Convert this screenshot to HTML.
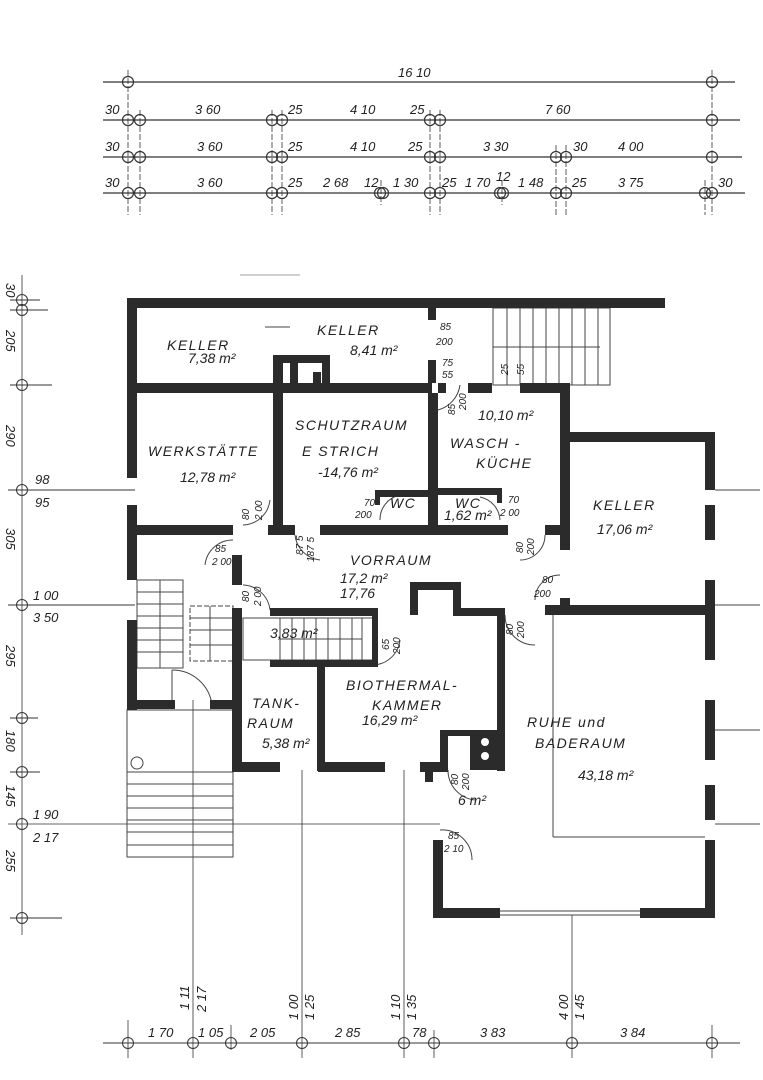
<!DOCTYPE html>
<html><head><meta charset="utf-8"><style>
html,body{margin:0;padding:0;background:#fff;}
svg{display:block;}
text{font-family:"Liberation Sans",sans-serif;font-style:italic;fill:#222;}
.l{font-size:14px;letter-spacing:1.5px;}
.h{font-size:14px;fill:#777;}
.d{font-size:13px;}
.s{font-size:10px;}
</style></head><body>
<svg width="763" height="1080" viewBox="0 0 763 1080" xmlns="http://www.w3.org/2000/svg">
<rect width="763" height="1080" fill="#fff"/>
<!-- top dimension lines -->
<g stroke="#333" stroke-width="1.2" fill="none">
<line x1="103" y1="82" x2="735" y2="82"/>
<line x1="103" y1="120" x2="740" y2="120"/>
<line x1="103" y1="157" x2="742" y2="157"/>
<line x1="103" y1="193" x2="745" y2="193"/>
<g stroke-width="0.8" stroke-dasharray="6,2">
<line x1="128" y1="70" x2="128" y2="215"/><line x1="140" y1="110" x2="140" y2="215"/>
<line x1="272" y1="110" x2="272" y2="215"/><line x1="282" y1="110" x2="282" y2="215"/>
<line x1="430" y1="110" x2="430" y2="215"/><line x1="440" y1="110" x2="440" y2="215"/>
<line x1="556" y1="145" x2="556" y2="215"/><line x1="566" y1="145" x2="566" y2="215"/>
<line x1="712" y1="70" x2="712" y2="215"/><line x1="705" y1="180" x2="705" y2="215"/>
<line x1="381" y1="180" x2="381" y2="205"/><line x1="502" y1="180" x2="502" y2="205"/>
</g>
<circle cx="128" cy="82" r="5.5"/><circle cx="712" cy="82" r="5.5"/>
<circle cx="128" cy="120" r="5.5"/><circle cx="140" cy="120" r="5.5"/><circle cx="272" cy="120" r="5.5"/><circle cx="282" cy="120" r="5.5"/><circle cx="430" cy="120" r="5.5"/><circle cx="440" cy="120" r="5.5"/><circle cx="712" cy="120" r="5.5"/>
<circle cx="128" cy="157" r="5.5"/><circle cx="140" cy="157" r="5.5"/><circle cx="272" cy="157" r="5.5"/><circle cx="282" cy="157" r="5.5"/><circle cx="430" cy="157" r="5.5"/><circle cx="440" cy="157" r="5.5"/><circle cx="556" cy="157" r="5.5"/><circle cx="566" cy="157" r="5.5"/><circle cx="712" cy="157" r="5.5"/>
<circle cx="128" cy="193" r="5.5"/><circle cx="140" cy="193" r="5.5"/><circle cx="272" cy="193" r="5.5"/><circle cx="282" cy="193" r="5.5"/><circle cx="380" cy="193" r="5.5"/><circle cx="383" cy="193" r="5.5"/><circle cx="430" cy="193" r="5.5"/><circle cx="440" cy="193" r="5.5"/><circle cx="500" cy="193" r="5.5"/><circle cx="503" cy="193" r="5.5"/><circle cx="556" cy="193" r="5.5"/><circle cx="566" cy="193" r="5.5"/><circle cx="705" cy="193" r="5.5"/><circle cx="712" cy="193" r="5.5"/>
</g>
<g class="d">
<text x="398" y="77">16 10</text>
<text x="105" y="114">30</text><text x="195" y="114">3 60</text><text x="288" y="114">25</text><text x="350" y="114">4 10</text><text x="410" y="114">25</text><text x="545" y="114">7 60</text>
<text x="105" y="151">30</text><text x="197" y="151">3 60</text><text x="288" y="151">25</text><text x="350" y="151">4 10</text><text x="408" y="151">25</text><text x="483" y="151">3 30</text><text x="573" y="151">30</text><text x="618" y="151">4 00</text>
<text x="105" y="187">30</text><text x="197" y="187">3 60</text><text x="288" y="187">25</text><text x="323" y="187">2 68</text><text x="364" y="187">12</text><text x="393" y="187">1 30</text><text x="442" y="187">25</text><text x="465" y="187">1 70</text><text x="496" y="181">12</text><text x="518" y="187">1 48</text><text x="572" y="187">25</text><text x="618" y="187">3 75</text><text x="718" y="187">30</text>
</g>
<!-- left axis -->
<g stroke="#333" stroke-width="1" fill="none">
<line x1="22" y1="275" x2="22" y2="935" stroke-width="0.8"/>
<line x1="10" y1="300" x2="40" y2="300"/><line x1="10" y1="310" x2="48" y2="310"/>
<line x1="10" y1="385" x2="52" y2="385"/><line x1="8" y1="490" x2="135" y2="490"/>
<line x1="8" y1="605" x2="135" y2="605"/><line x1="10" y1="718" x2="38" y2="718"/>
<line x1="10" y1="772" x2="40" y2="772"/><line x1="8" y1="824" x2="440" y2="824" stroke-width="0.8"/>
<line x1="10" y1="918" x2="62" y2="918"/>
<circle cx="22" cy="300" r="5.5"/><circle cx="22" cy="310" r="5.5"/><circle cx="22" cy="385" r="5.5"/><circle cx="22" cy="490" r="5.5"/><circle cx="22" cy="605" r="5.5"/><circle cx="22" cy="718" r="5.5"/><circle cx="22" cy="772" r="5.5"/><circle cx="22" cy="824" r="5.5"/><circle cx="22" cy="918" r="5.5"/>
</g>
<g class="d">
<text transform="translate(6,283) rotate(90)">30</text>
<text transform="translate(6,330) rotate(90)">205</text>
<text transform="translate(6,425) rotate(90)">290</text>
<text transform="translate(6,528) rotate(90)">305</text>
<text transform="translate(6,645) rotate(90)">295</text>
<text transform="translate(6,730) rotate(90)">180</text>
<text transform="translate(6,785) rotate(90)">145</text>
<text transform="translate(6,850) rotate(90)">255</text>
<text x="35" y="484">98</text><text x="35" y="507">95</text>
<text x="33" y="600">1 00</text><text x="33" y="622">3 50</text>
<text x="33" y="819">1 90</text><text x="33" y="842">2 17</text>
</g>
<!-- bottom dimension -->
<g stroke="#333" stroke-width="1" fill="none">
<line x1="103" y1="1043" x2="740" y2="1043"/>
<g stroke-width="0.8">
<line x1="128" y1="1020" x2="128" y2="1058"/><line x1="193" y1="700" x2="193" y2="1058"/><line x1="231" y1="1025" x2="231" y2="1050"/>
<line x1="302" y1="770" x2="302" y2="1058"/><line x1="404" y1="770" x2="404" y2="1058"/><line x1="434" y1="1030" x2="434" y2="1058"/>
<line x1="572" y1="915" x2="572" y2="1058"/><line x1="712" y1="1025" x2="712" y2="1058"/>
</g>
<circle cx="128" cy="1043" r="5.5"/><circle cx="193" cy="1043" r="5.5"/><circle cx="231" cy="1043" r="5.5"/><circle cx="302" cy="1043" r="5.5"/><circle cx="404" cy="1043" r="5.5"/><circle cx="434" cy="1043" r="5.5"/><circle cx="572" cy="1043" r="5.5"/><circle cx="712" cy="1043" r="5.5"/>
</g>
<g class="d">
<text x="148" y="1037">1 70</text><text x="198" y="1037">1 05</text><text x="250" y="1037">2 05</text><text x="335" y="1037">2 85</text><text x="412" y="1037">78</text><text x="480" y="1037">3 83</text><text x="620" y="1037">3 84</text>
<text transform="translate(189,1010) rotate(-90)">1 11</text><text transform="translate(206,1012) rotate(-90)">2 17</text>
<text transform="translate(298,1020) rotate(-90)">1 00</text><text transform="translate(314,1020) rotate(-90)">1 25</text>
<text transform="translate(400,1020) rotate(-90)">1 10</text><text transform="translate(416,1020) rotate(-90)">1 35</text>
<text transform="translate(568,1020) rotate(-90)">4 00</text><text transform="translate(584,1020) rotate(-90)">1 45</text>
</g>
<!-- thin lines / stairs -->
<g stroke="#444" stroke-width="1" fill="none">
<rect x="493" y="308" width="117" height="77"/>
<line x1="507" y1="308" x2="507" y2="385"/><line x1="520" y1="308" x2="520" y2="385"/><line x1="533" y1="308" x2="533" y2="385"/><line x1="546" y1="308" x2="546" y2="385"/><line x1="559" y1="308" x2="559" y2="385"/><line x1="572" y1="308" x2="572" y2="385"/><line x1="585" y1="308" x2="585" y2="385"/><line x1="598" y1="308" x2="598" y2="385"/>
<line x1="493" y1="347" x2="600" y2="347"/>
<rect x="243" y="618" width="130" height="42"/>
<line x1="280" y1="618" x2="280" y2="660"/><line x1="292" y1="618" x2="292" y2="660"/><line x1="304" y1="618" x2="304" y2="660"/><line x1="316" y1="618" x2="316" y2="660"/><line x1="328" y1="618" x2="328" y2="660"/><line x1="340" y1="618" x2="340" y2="660"/><line x1="352" y1="618" x2="352" y2="660"/><line x1="362" y1="618" x2="362" y2="660"/>
<line x1="280" y1="639" x2="362" y2="639"/>
<rect x="137" y="580" width="46" height="88"/>
<line x1="137" y1="592" x2="183" y2="592"/><line x1="137" y1="604" x2="183" y2="604"/><line x1="137" y1="616" x2="183" y2="616"/><line x1="137" y1="628" x2="183" y2="628"/><line x1="137" y1="640" x2="183" y2="640"/><line x1="137" y1="652" x2="183" y2="652"/><line x1="160" y1="580" x2="160" y2="668"/>
<rect x="190" y="606" width="43" height="55" stroke-dasharray="5,2"/>
<line x1="190" y1="618" x2="233" y2="618"/><line x1="190" y1="630" x2="233" y2="630"/><line x1="190" y1="645" x2="233" y2="645"/><line x1="210" y1="606" x2="210" y2="661"/>
<path d="M172 670 A40 40 0 0 1 212 705"/><line x1="172" y1="670" x2="172" y2="705"/>
<rect x="127" y="710" width="106" height="147"/>
<line x1="127" y1="772" x2="233" y2="772"/><line x1="127" y1="784" x2="233" y2="784"/><line x1="127" y1="796" x2="233" y2="796"/><line x1="127" y1="808" x2="233" y2="808"/><line x1="127" y1="820" x2="233" y2="820"/><line x1="127" y1="832" x2="233" y2="832"/><line x1="127" y1="845" x2="233" y2="845"/>
<circle cx="137" cy="763" r="6"/>
<line x1="553" y1="615" x2="553" y2="837"/><line x1="553" y1="837" x2="705" y2="837"/>
<line x1="715" y1="490" x2="760" y2="490"/><line x1="715" y1="605" x2="760" y2="605"/><line x1="715" y1="730" x2="760" y2="730"/><line x1="715" y1="824" x2="760" y2="824"/>
<line x1="500" y1="915" x2="640" y2="915"/><line x1="500" y1="911" x2="640" y2="911"/>
<line x1="240" y1="275" x2="300" y2="275" stroke-width="0.5"/>
<line x1="265" y1="327" x2="290" y2="327"/>
<!-- door arcs -->
<path d="M438 410 A30 30 0 0 0 460 385"/><path d="M380 520 A25 25 0 0 1 400 495"/>
<path d="M500 520 A25 25 0 0 0 480 497"/><path d="M243 525 A28 28 0 0 0 270 500"/>
<path d="M295 535 A28 28 0 0 0 320 560"/><path d="M545 535 A25 25 0 0 1 520 560"/>
<path d="M233 540 A28 28 0 0 0 205 565"/><path d="M243 585 A28 28 0 0 1 270 610"/>
<path d="M560 575 A25 25 0 0 0 535 600"/><path d="M505 615 A30 30 0 0 0 535 645"/>
<path d="M373 665 A28 28 0 0 0 400 640"/><path d="M448 770 A30 30 0 0 0 475 800"/>
<path d="M440 830 A30 30 0 0 1 472 860"/>
</g>
<!-- walls -->
<g fill="#2b2b2b">
<rect x="127" y="298" width="538" height="10"/>
<rect x="127" y="298" width="10" height="180"/><rect x="127" y="505" width="10" height="75"/><rect x="127" y="620" width="10" height="90"/>
<rect x="127" y="700" width="48" height="9"/><rect x="210" y="700" width="23" height="9"/>
<rect x="137" y="383" width="295" height="10"/><rect x="438" y="383" width="8" height="10"/><rect x="468" y="383" width="24" height="10"/><rect x="520" y="383" width="50" height="10"/>
<rect x="273" y="355" width="57" height="8"/><rect x="273" y="355" width="10" height="180"/><rect x="322" y="355" width="8" height="30"/>
<rect x="428" y="308" width="8" height="12"/><rect x="428" y="360" width="8" height="23"/><rect x="428" y="393" width="10" height="137"/>
<rect x="560" y="385" width="10" height="165"/><rect x="560" y="598" width="10" height="17"/>
<rect x="565" y="432" width="150" height="10"/>
<rect x="705" y="432" width="10" height="58"/><rect x="705" y="505" width="10" height="35"/><rect x="705" y="580" width="10" height="80"/><rect x="705" y="700" width="10" height="60"/><rect x="705" y="785" width="10" height="35"/><rect x="705" y="840" width="10" height="78"/>
<rect x="375" y="490" width="53" height="7"/><rect x="375" y="490" width="5" height="15"/>
<rect x="438" y="488" width="64" height="7"/><rect x="497" y="488" width="5" height="15"/>
<rect x="137" y="525" width="96" height="10"/><rect x="268" y="525" width="27" height="10"/><rect x="320" y="525" width="188" height="10"/><rect x="545" y="525" width="25" height="10"/>
<rect x="232" y="555" width="10" height="30"/><rect x="232" y="608" width="10" height="164"/>
<rect x="270" y="608" width="108" height="8"/><rect x="372" y="608" width="6" height="58"/>
<rect x="270" y="660" width="108" height="7"/>
<rect x="317" y="663" width="8" height="108"/>
<rect x="410" y="585" width="8" height="30"/><rect x="410" y="582" width="50" height="8"/><rect x="453" y="582" width="8" height="33"/><rect x="453" y="608" width="52" height="8"/>
<rect x="497" y="608" width="8" height="163"/>
<rect x="545" y="605" width="170" height="10"/>
<rect x="232" y="762" width="48" height="10"/><rect x="318" y="762" width="67" height="10"/><rect x="420" y="762" width="25" height="10"/><rect x="425" y="762" width="8" height="20"/>
<rect x="440" y="730" width="8" height="42"/><rect x="440" y="730" width="30" height="6"/><rect x="470" y="730" width="27" height="40"/>
<rect x="433" y="840" width="10" height="78"/><rect x="433" y="908" width="67" height="10"/><rect x="640" y="908" width="75" height="10"/>
<rect x="290" y="358" width="8" height="30"/><rect x="313" y="372" width="8" height="20"/>
</g>
<circle cx="485" cy="742" r="4" fill="#fff"/><circle cx="485" cy="756" r="4" fill="#fff"/>
<!-- labels -->
<g class="l">
<text x="167" y="350">KELLER</text><text x="317" y="335">KELLER</text>
<text x="148" y="456">WERKSTÄTTE</text><text x="295" y="430">SCHUTZRAUM</text><text x="302" y="456">E STRICH</text>
<text x="450" y="448">WASCH -</text><text x="476" y="468">KÜCHE</text>
<text x="593" y="510">KELLER</text><text x="350" y="565">VORRAUM</text>
<text x="390" y="508">WC</text><text x="455" y="508">WC</text>
<text x="346" y="690">BIOTHERMAL-</text><text x="372" y="710">KAMMER</text>
<text x="252" y="708">TANK-</text><text x="247" y="728">RAUM</text>
<text x="527" y="727">RUHE und</text><text x="535" y="748">BADERAUM</text>
</g>
<g class="h">
<text x="188" y="363">7,38 m²</text><text x="350" y="355">8,41 m²</text>
<text x="180" y="482">12,78 m²</text><text x="318" y="477">-14,76 m²</text>
<text x="478" y="420">10,10 m²</text><text x="444" y="520">1,62 m²</text>
<text x="597" y="534">17,06 m²</text><text x="340" y="583">17,2 m²</text><text x="340" y="598">17,76</text>
<text x="270" y="638">3,83 m²</text><text x="362" y="725">16,29 m²</text><text x="262" y="748">5,38 m²</text>
<text x="578" y="780">43,18 m²</text><text x="458" y="805">6 m²</text>
</g>
<g class="s">
<text x="440" y="330">85</text><text x="436" y="345">200</text><text x="442" y="366">75</text><text x="442" y="378">55</text>
<text transform="translate(508,375) rotate(-90)">25</text><text transform="translate(524,375) rotate(-90)">55</text>
<text transform="translate(455,415) rotate(-90)">85</text><text transform="translate(466,410) rotate(-90)">200</text>
<text x="364" y="506">70</text><text x="355" y="518">200</text><text x="508" y="503">70</text><text x="500" y="516">2 00</text>
<text transform="translate(249,520) rotate(-90)">80</text><text transform="translate(262,520) rotate(-90)">2 00</text>
<text transform="translate(303,555) rotate(-90)">87 5</text><text transform="translate(314,562) rotate(-90)">187 5</text>
<text transform="translate(523,553) rotate(-90)">80</text><text transform="translate(534,555) rotate(-90)">200</text>
<text x="215" y="552">85</text><text x="212" y="565">2 00</text>
<text transform="translate(249,602) rotate(-90)">80</text><text transform="translate(261,606) rotate(-90)">2 00</text>
<text x="542" y="583">80</text><text x="534" y="597">200</text>
<text transform="translate(513,635) rotate(-90)">80</text><text transform="translate(524,638) rotate(-90)">200</text>
<text transform="translate(389,650) rotate(-90)">65</text><text transform="translate(400,654) rotate(-90)">200</text>
<text transform="translate(458,785) rotate(-90)">80</text><text transform="translate(469,790) rotate(-90)">200</text>
<text x="448" y="839">85</text><text x="444" y="852">2 10</text>
</g>
</svg>
</body></html>
